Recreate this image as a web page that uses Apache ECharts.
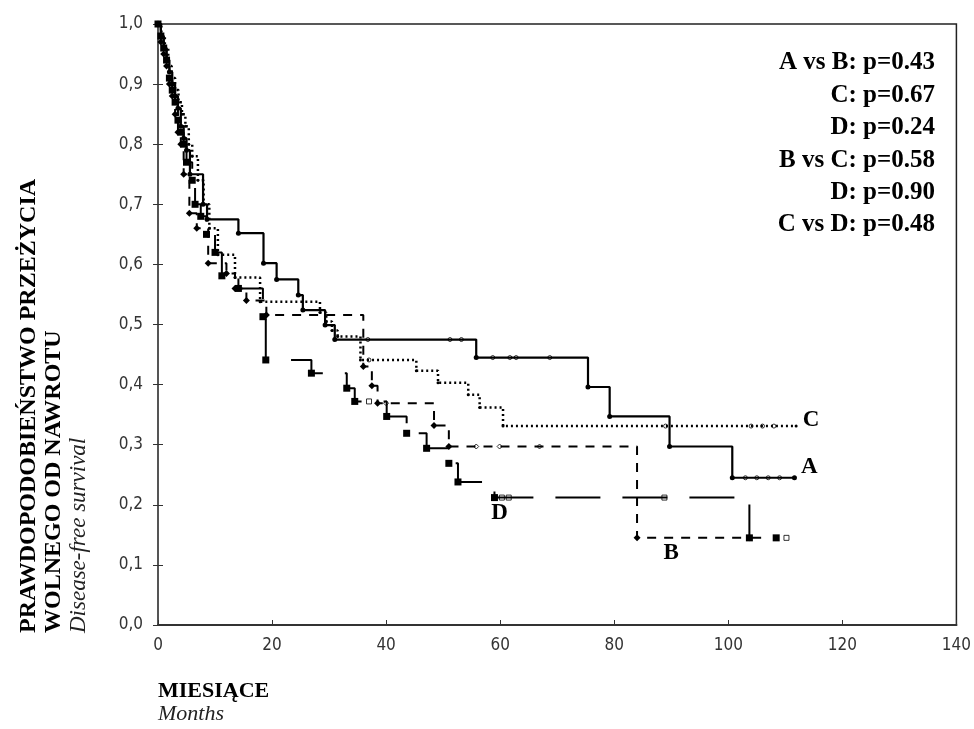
<!DOCTYPE html>
<html>
<head>
<meta charset="utf-8">
<script src="https://cdn.jsdelivr.net/npm/echarts@6/dist/echarts.min.js"></script>
<style>
  html, body { margin: 0; background: #fff; }
  #chart { width: 974px; height: 729px; }
</style>
</head>
<body>
<div id="chart"></div>
<script>
// Kaplan-Meier curves (time in months, survival)
const aTime = [0, 0.5, 1, 1.5, 2, 2.5, 3, 3.5, 4, 4.5, 5, 5.6, 7.9, 8.6, 14.1, 18.5, 20.8, 24.6, 25.4, 29.3, 31.0, 55.8, 75.4, 79.2, 89.7, 100.7, 111.6];
const aSurv = [1.0, 0.98, 0.96, 0.94, 0.92, 0.90, 0.88, 0.86, 0.83, 0.81, 0.79, 0.75, 0.70, 0.675, 0.652, 0.602, 0.575, 0.549, 0.524, 0.499, 0.475, 0.445, 0.396, 0.347, 0.297, 0.245, 0.245];

const bTime = [0, 0.5, 1, 1.5, 2, 2.5, 3, 3.5, 4, 4.5, 5.5, 6.8, 8.8, 12, 13.5, 15.5, 19, 36, 37.5, 38.5, 48.4, 51, 84, 103.7];
const bSurv = [1.0, 0.97, 0.95, 0.93, 0.90, 0.88, 0.85, 0.82, 0.80, 0.75, 0.685, 0.66, 0.602, 0.585, 0.56, 0.54, 0.516, 0.43, 0.398, 0.369, 0.332, 0.297, 0.145, 0.145];

const cTime = [0, 0.6, 1.2, 1.8, 2.4, 3, 3.6, 4.2, 4.8, 5.4, 6, 7, 8, 9, 10.5, 13.5, 17.9, 28.4, 29.5, 30.5, 31.5, 35.5, 45.3, 49.1, 54.4, 56.4, 60.5, 111.9];
const cSurv = [1.0, 0.98, 0.96, 0.93, 0.91, 0.89, 0.87, 0.85, 0.83, 0.80, 0.78, 0.74, 0.70, 0.66, 0.616, 0.578, 0.538, 0.52, 0.505, 0.49, 0.48, 0.441, 0.423, 0.403, 0.383, 0.362, 0.331, 0.331];

const dTime = [0, 0.5, 1, 1.5, 2, 2.5, 3, 3.5, 4, 4.5, 5, 6, 6.5, 7.5, 8.5, 10, 11.2, 14.1, 18.4, 18.9, 26.9, 33.1, 34.5, 40.1, 43.6, 47.1, 51.0, 52.6, 59.0, 103.7, 108.4];
const dSurv = [1.0, 0.98, 0.96, 0.94, 0.91, 0.89, 0.87, 0.84, 0.82, 0.80, 0.77, 0.74, 0.70, 0.68, 0.65, 0.62, 0.581, 0.560, 0.513, 0.441, 0.419, 0.394, 0.372, 0.347, 0.319, 0.294, 0.269, 0.238, 0.212, 0.145, 0.145];

// censored observations
const aCens = [[36.8, 0.475], [51.2, 0.475], [53.2, 0.475], [58.7, 0.445], [61.7, 0.445], [62.8, 0.445], [68.7, 0.445], [103, 0.245], [105, 0.245], [107, 0.245], [109, 0.245]];
const bCens = [[40, 0.369], [55.8, 0.297], [59.9, 0.297], [66.9, 0.297]];
const cCens = [[37, 0.441], [89, 0.331], [104, 0.331], [106, 0.331], [108, 0.331]];
const dCens = [[37, 0.372], [60.3, 0.212], [61.5, 0.212], [88.8, 0.212], [110.2, 0.145]];

const pLines = ["A vs B: p=0.43", "C: p=0.67", "D: p=0.24", "B vs C: p=0.58", "D: p=0.90", "C vs D: p=0.48"];
const yTitle = ["PRAWDOPODOBIEŃSTWO PRZEŻYCIA", "WOLNEGO OD NAWROTU", "Disease-free survival"];
const xTitle = ["MIESIĄCE", "Months"];

const pairs = (t, s) => t.map((v, i) => [v, s[i]]);
const serif = "Liberation Serif";

function curve(name, data, dash, width, symbol, size, label, labelCoord) {
  return {
    name: name,
    type: "line",
    step: "end",
    data: data,
    symbol: symbol,
    symbolSize: size,
    showAllSymbol: true,
    animation: false,
    lineStyle: { color: "#000", width: width, type: dash },
    itemStyle: { color: "#000" },
    markPoint: {
      symbol: "circle",
      symbolSize: 0,
      data: [{ coord: labelCoord }],
      label: {
        show: true,
        formatter: label,
        position: "inside",
        color: "#000",
        fontFamily: serif,
        fontWeight: "bold",
        fontSize: 23,
      },
    },
  };
}

function censor(data, symbol, size) {
  return {
    type: "scatter",
    data: data,
    symbol: symbol,
    symbolSize: size,
    animation: false,
    itemStyle: { color: "#fff", borderColor: "#000", borderWidth: 1 },
  };
}

let myChart = echarts.init(document.getElementById("chart"));

let texts = [];
pLines.forEach((t, i) => {
  texts.push({
    type: "text",
    x: 935,
    y: 63 + i * 32.4,
    style: { text: t, fill: "#000", font: "bold 25px " + serif, textAlign: "right", textVerticalAlign: "middle" },
  });
});
[29, 54].forEach((x, i) => {
  texts.push({
    type: "text",
    x: x,
    y: 633,
    rotation: Math.PI / 2,
    style: { text: yTitle[i], fill: "#000", font: "bold 24px " + serif, textAlign: "left", textVerticalAlign: "middle" },
  });
});
texts.push({
  type: "text",
  x: 79,
  y: 633,
  rotation: Math.PI / 2,
  style: { text: yTitle[2], fill: "#222", font: "italic 23px " + serif, textAlign: "left", textVerticalAlign: "middle" },
});
texts.push({
  type: "text",
  x: 158,
  y: 691,
  style: { text: xTitle[0], fill: "#000", font: "bold 22px " + serif, textAlign: "left", textVerticalAlign: "middle" },
});
texts.push({
  type: "text",
  x: 158,
  y: 714,
  style: { text: xTitle[1], fill: "#222", font: "italic 22px " + serif, textAlign: "left", textVerticalAlign: "middle" },
});

let option = {
  backgroundColor: "#fff",
  animation: false,
  grid: {
    left: 158,
    right: 17,
    top: 24,
    bottom: 104,
    show: true,
    borderColor: "#222",
    borderWidth: 1.5,
  },
  xAxis: {
    type: "value",
    min: 0,
    max: 140,
    interval: 20,
    splitLine: { show: false },
    axisLine: { onZero: false, lineStyle: { color: "#333", width: 2 } },
    axisTick: { inside: true, length: 5, lineStyle: { color: "#333" } },
    axisLabel: { color: "#333", fontFamily: "DejaVu Sans Condensed", fontSize: 17, margin: 12 },
  },
  yAxis: [
    {
      type: "value",
      min: 0,
      max: 1,
      interval: 0.1,
      splitLine: { show: false },
      axisLine: { show: true, onZero: false, lineStyle: { color: "#333", width: 2 } },
      axisTick: { show: true, inside: true, length: 5, lineStyle: { color: "#333" } },
      axisLabel: {
        color: "#333",
        fontFamily: "DejaVu Sans Condensed",
        fontSize: 17,
        margin: 15,
        formatter: (v) => v.toFixed(1).replace(".", ","),
      },
    },
    {
      type: "value",
      position: "right",
      min: 0,
      max: 1,
      interval: 0.1,
      splitLine: { show: false },
      axisLine: { show: true, lineStyle: { color: "#555", width: 2 } },
      axisTick: { show: true, inside: true, length: 5, lineStyle: { color: "#333" } },
      axisLabel: { show: false },
    },
  ],
  series: [
    curve("A", pairs(aTime, aSurv), "solid", 2.2, "circle", 5, "A", [114.2, 0.263]),
    curve("B", pairs(bTime, bSurv), [9, 8], 2, "diamond", 7, "B", [90, 0.12]),
    curve("C", pairs(cTime, cSurv), [2, 3], 2.5, "circle", 3, "C", [114.5, 0.341]),
    curve("D", pairs(dTime, dSurv), [45, 22], 2, "rect", 7, "D", [59.9, 0.186]),
    censor(aCens, "circle", 4),
    censor(bCens, "diamond", 5),
    censor(cCens, "circle", 4),
    censor(dCens, "rect", 5),
  ],
  graphic: texts,
};

myChart.setOption(option);
</script>
</body>
</html>
